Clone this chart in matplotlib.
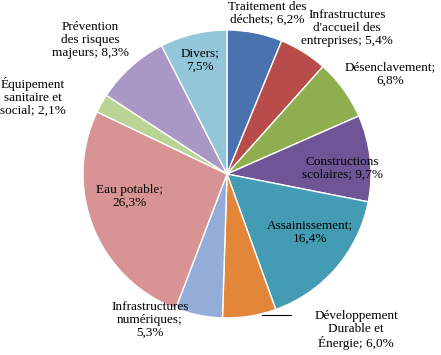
import matplotlib
matplotlib.use('Agg')
import matplotlib.pyplot as plt

# Data
labels = ["Traitement des\ndéchets; 6,2%",
          "Infrastructures\nd'accueil des\nentreprises; 5,4%",
          "Désenclavement;\n6,8%",
          "Constructions\nscolaires; 9,7%",
          "Assainissement;\n16,4%",
          "Développement\nDurable et\nÉnergie; 6,0%",
          "Infrastructures\nnumériques;\n5,3%",
          "Eau potable;\n26,3%",
          "Équipement\nsanitaire et\nsocial; 2,1%",
          "Prévention\ndes risques\nmajeurs; 8,3%",
          "Divers;\n7,5%"]
values = [6.2, 5.4, 6.8, 9.7, 16.4, 6.0, 5.3, 26.3, 2.1, 8.3, 7.5]
colors = ["#4a72b0", "#b84c4a", "#8fae50", "#6f5596", "#439cb3", "#e2873a",
          "#94acd8", "#d89495", "#b9d494", "#a997c5", "#92c6d8"]

# label centres in pixels of the 441x355 image
label_px = [(267, 13), (347, 28), (390, 74), (342, 168), (310, 232), (356, 330),
            (150, 320), (130, 196), (33, 97), (90, 40), (200, 60)]

W, H = 441, 355
cx, cy, R = 227, 174, 144

fig = plt.figure(figsize=(W / 100, H / 100), dpi=100)
ax = fig.add_axes([0, 0, 1, 1])
ax.pie(values, colors=colors, startangle=90, counterclock=False,
       wedgeprops=dict(edgecolor="white", linewidth=1))
ax.set_xlim(-cx / R, (W - cx) / R)
ax.set_ylim(-(H - cy) / R, cy / R)
ax.set_aspect("auto")
ax.axis("off")

for text, (px, py) in zip(labels, label_px):
    ax.text((px - cx) / R, (cy - py) / R, text, ha="center", va="center",
            fontsize=9.5, family="Liberation Serif", linespacing=1.1)

# leader line for Développement Durable
ax.plot([(262 - cx) / R, (291 - cx) / R], [(cy - 315) / R, (cy - 315) / R],
        color="black", linewidth=0.8)

fig.savefig("out.png", dpi=100)
